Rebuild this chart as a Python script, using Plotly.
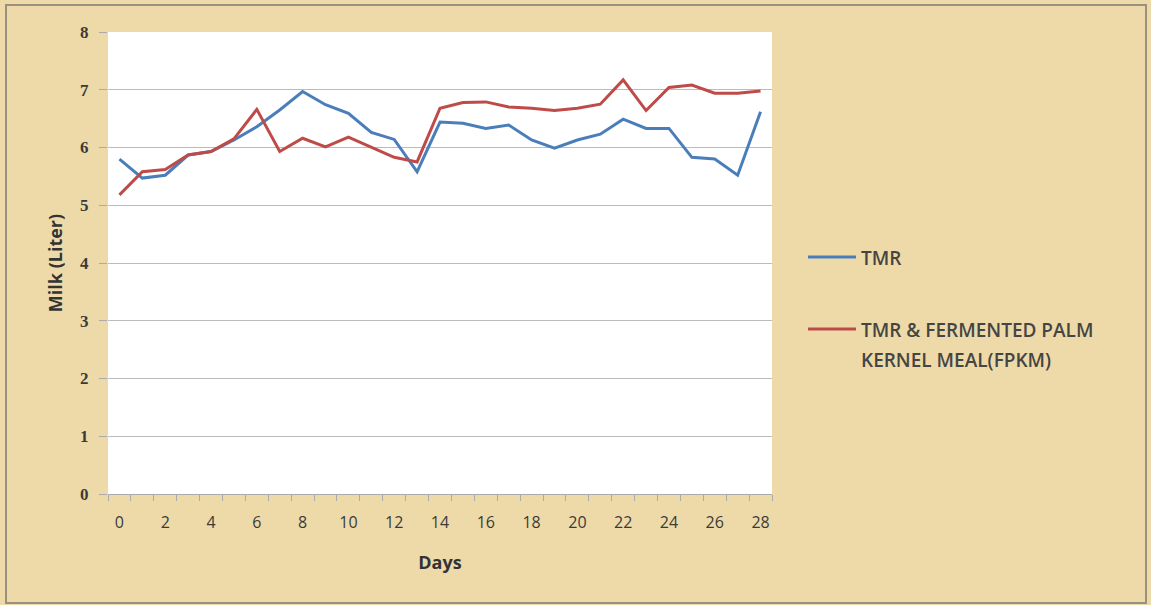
import plotly.graph_objects as go

days = list(range(29))
tmr = [5.80, 5.47, 5.52, 5.87, 5.93, 6.13, 6.36, 6.65, 6.97, 6.74, 6.59, 6.26, 6.14, 5.58,
       6.44, 6.42, 6.33, 6.39, 6.13, 5.99, 6.13, 6.23, 6.49, 6.33, 6.33, 5.83, 5.80, 5.52, 6.62]
fpkm = [5.18, 5.58, 5.62, 5.87, 5.93, 6.15, 6.66, 5.93, 6.16, 6.01, 6.18, 6.01, 5.83, 5.75,
        6.68, 6.78, 6.79, 6.70, 6.68, 6.64, 6.68, 6.75, 7.17, 6.64, 7.04, 7.08, 6.94, 6.94, 6.98]
series_names = ["TMR", "TMR & FERMENTED PALM<br>KERNEL MEAL(FPKM)"]
series_colors = ["#4a7ebb", "#be4b48"]
x_ticks = list(range(0, 29, 2))
y_ticks = list(range(0, 9))

PL, PR, PT, PB = 108, 772, 32, 494
PW, PH = PR - PL, PB - PT


def px(x):
    return (x - PL) / PW


def py(y):
    return (PB - y) / PH


fig = go.Figure()
for name, vals, col in zip(series_names, [tmr, fpkm], series_colors):
    fig.add_trace(go.Scatter(x=days, y=vals, mode="lines", name=name, showlegend=False,
                             line=dict(color=col, width=3)))

# manual legend
legend_rows = [257, 329]
shapes = [dict(type="rect", xref="paper", yref="paper",
               x0=px(6), x1=px(1146), y0=py(603), y1=py(5),
               line=dict(color="#9a9080", width=2), fillcolor="rgba(0,0,0,0)", layer="below")]
annotations = []
for row, name, col in zip(legend_rows, series_names, series_colors):
    shapes.append(dict(type="line", xref="paper", yref="paper",
                       x0=px(808), x1=px(856), y0=py(row), y1=py(row),
                       line=dict(color=col, width=3)))
    lines = name.split("<br>")
    for i, t in enumerate(lines):
        annotations.append(dict(xref="paper", yref="paper", x=px(859), y=py(row + 1 + i * 30),
                                xanchor="left", yanchor="middle", showarrow=False, text=t,
                                font=dict(size=19, color="#454545", family="Open Sans", weight=600)))

fig.update_layout(
    width=1151, height=605,
    margin=dict(l=PL, r=1151 - PR, t=PT, b=605 - PB),
    paper_bgcolor="#eedaa8",
    plot_bgcolor="white",
    font=dict(family="Open Sans", color="#3a3a3a"),
    showlegend=False,
    xaxis=dict(range=[-0.5, 28.5], tickvals=x_ticks, ticktext=[str(v) for v in x_ticks],
               showgrid=False, zeroline=False, showline=True, linecolor="#aaaaaa", linewidth=1,
               ticks="", ticklabelstandoff=14,
               tickfont=dict(size=16, color="#3a3a3a"),
               minor=dict(tickvals=[d - 0.5 for d in range(30)], ticks="outside",
                          ticklen=6, tickcolor="#aaaaaa"),
               title=dict(text="<b>Days</b>", font=dict(size=18, color="#333333"), standoff=24)),
    yaxis=dict(range=[0, 8], tickvals=y_ticks, showgrid=True, gridcolor="#bbbbbb", gridwidth=1.2,
               zeroline=False, showline=False, ticks="outside", ticklen=8, tickcolor="#aaaaaa",
               ticklabelstandoff=7,
               tickfont=dict(size=17, color="#3a3a3a", family="Liberation Serif", weight="bold"),
               title=dict(text="<b>Milk (Liter)</b>", font=dict(size=18, color="#333333"), standoff=12)),
    shapes=shapes,
    annotations=annotations,
)

fig.write_html("out.html")
